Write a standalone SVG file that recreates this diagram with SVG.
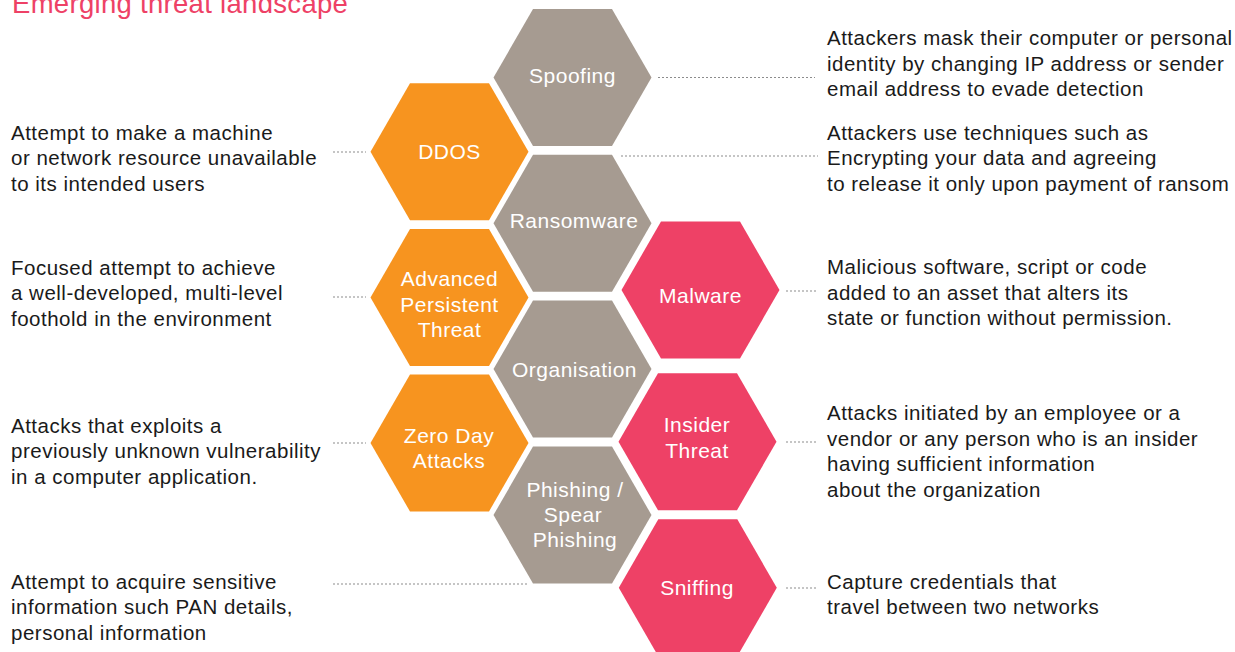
<svg xmlns="http://www.w3.org/2000/svg" width="1235" height="652" viewBox="0 0 1235 652">
<defs>
<style>
.hex-g{fill:#A69B91}
.hex-o{fill:#F7941F}
.hex-p{fill:#EE4166}
.lbl{font-family:"Liberation Sans",Arial,Helvetica,sans-serif;font-size:21px;letter-spacing:0.5px;fill:#FFFFFF;text-anchor:middle}
.desc{font-family:"Liberation Sans",Arial,Helvetica,sans-serif;font-size:20.5px;letter-spacing:0.5px;fill:#1A1A1A}
.title{font-family:"Liberation Sans",Arial,Helvetica,sans-serif;font-size:27.5px;letter-spacing:0.3px;fill:#EE4166}
.conn{stroke:#8C8C8C;stroke-width:1.2;stroke-dasharray:2 2;fill:none}
</style>
<polygon id="hx" points="-79,0 -39.5,-68.5 39.5,-68.5 79,0 39.5,68.5 -39.5,68.5"/>
</defs>
<rect width="1235" height="652" fill="#FFFFFF"/>
<text class="title" x="12" y="12.5">Emerging threat landscape</text>

<g id="connectors">
<line class="conn" x1="658" y1="77.5" x2="815" y2="77.5"/>
<line class="conn" x1="621" y1="156" x2="818" y2="156"/>
<line class="conn" x1="333" y1="152" x2="366" y2="152"/>
<line class="conn" x1="333" y1="297" x2="366" y2="297"/>
<line class="conn" x1="333" y1="443" x2="366" y2="443"/>
<line class="conn" x1="333" y1="584" x2="528" y2="584"/>
<line class="conn" x1="786" y1="291" x2="818" y2="291"/>
<line class="conn" x1="786" y1="442" x2="818" y2="442"/>
<line class="conn" x1="786" y1="588" x2="818" y2="588"/>
</g>

<g id="spoofing">
<use href="#hx" class="hex-g" x="572.5" y="77.5"/>
<text class="lbl" x="572.5" y="83">Spoofing</text>
</g>
<g id="ddos">
<use href="#hx" class="hex-o" x="449.5" y="151.7"/>
<text class="lbl" x="449.5" y="159">DDOS</text>
</g>
<g id="ransomware">
<use href="#hx" class="hex-g" x="572.5" y="223.3"/>
<text class="lbl" x="574" y="228">Ransomware</text>
</g>
<g id="apt">
<use href="#hx" class="hex-o" x="449.5" y="297.5"/>
<text class="lbl" x="449.5" y="286">Advanced</text>
<text class="lbl" x="449.5" y="311.5">Persistent</text>
<text class="lbl" x="449.5" y="337">Threat</text>
</g>
<g id="malware">
<use href="#hx" class="hex-p" x="700.5" y="290"/>
<text class="lbl" x="700.5" y="303">Malware</text>
</g>
<g id="organisation">
<use href="#hx" class="hex-g" x="572.5" y="369"/>
<text class="lbl" x="574.5" y="376.5">Organisation</text>
</g>
<g id="insider-threat">
<use href="#hx" class="hex-p" x="697.5" y="441.7"/>
<text class="lbl" x="697" y="432">Insider</text>
<text class="lbl" x="697" y="457.5">Threat</text>
</g>
<g id="zero-day">
<use href="#hx" class="hex-o" x="449.5" y="443"/>
<text class="lbl" x="449" y="443">Zero Day</text>
<text class="lbl" x="449" y="468">Attacks</text>
</g>
<g id="phishing">
<use href="#hx" class="hex-g" x="572.5" y="515"/>
<text class="lbl" x="575" y="497">Phishing /</text>
<text class="lbl" x="573" y="522">Spear</text>
<text class="lbl" x="575" y="547">Phishing</text>
</g>
<g id="sniffing">
<use href="#hx" class="hex-p" x="697.8" y="587.8"/>
<text class="lbl" x="697" y="595">Sniffing</text>
</g>

<g id="descriptions-left">
<text class="desc" x="11" y="139.5">Attempt to make a machine</text>
<text class="desc" x="11" y="165">or network resource unavailable</text>
<text class="desc" x="11" y="190.5">to its intended users</text>
<text class="desc" x="11" y="274.5">Focused attempt to achieve</text>
<text class="desc" x="11" y="300">a well-developed, multi-level</text>
<text class="desc" x="11" y="325.5">foothold in the environment</text>
<text class="desc" x="11" y="432.5">Attacks that exploits a</text>
<text class="desc" x="11" y="458">previously unknown vulnerability</text>
<text class="desc" x="11" y="483.5">in a computer application.</text>
<text class="desc" x="11" y="588.5">Attempt to acquire sensitive</text>
<text class="desc" x="11" y="614">information such PAN details,</text>
<text class="desc" x="11" y="639.5">personal information</text>
</g>
<g id="descriptions-right">
<text class="desc" x="827" y="45">Attackers mask their computer or personal</text>
<text class="desc" x="827" y="70.5">identity by changing IP address or sender</text>
<text class="desc" x="827" y="96">email address to evade detection</text>
<text class="desc" x="827" y="139.5">Attackers use techniques such as</text>
<text class="desc" x="827" y="165">Encrypting your data and agreeing</text>
<text class="desc" x="827" y="190.5">to release it only upon payment of ransom</text>
<text class="desc" x="827" y="274">Malicious software, script or code</text>
<text class="desc" x="827" y="299.5">added to an asset that alters its</text>
<text class="desc" x="827" y="325">state or function without permission.</text>
<text class="desc" x="827" y="420">Attacks initiated by an employee or a</text>
<text class="desc" x="827" y="445.5">vendor or any person who is an insider</text>
<text class="desc" x="827" y="471">having sufficient information</text>
<text class="desc" x="827" y="496.5">about the organization</text>
<text class="desc" x="827" y="588.5">Capture credentials that</text>
<text class="desc" x="827" y="614">travel between two networks</text>
</g>
</svg>
